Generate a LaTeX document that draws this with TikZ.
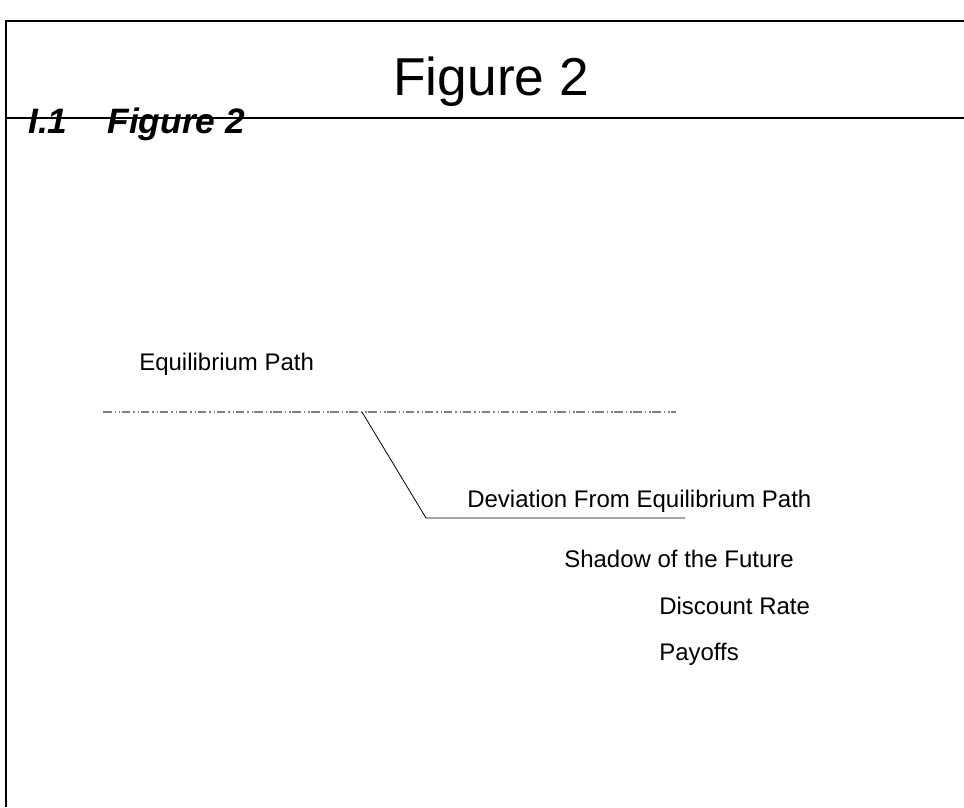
\documentclass[tikz,border=0pt]{standalone}
\usepackage{fontspec}
\setmainfont{Liberation Sans}
\usetikzlibrary{positioning}

\begin{document}
\begin{tikzpicture}[x=0.75pt, y=-0.75pt, every node/.style={inner sep=0pt, anchor=base west, font=\fontsize{18}{21}\selectfont}]
            \useasboundingbox (0,0) rectangle (964,807);

            % page frame and heading rule
            \draw [line width=1.5pt] (964,21) -- (6,21) -- (6,807);
            \draw [line width=1.2pt] (6,118) -- (964,118);

            \node (title) at (393,95) [font=\fontsize{40}{48}\selectfont] {Figure 2};
            \node (heading) at (28,133) [font=\fontsize{26.5}{30}\selectfont\bfseries\itshape] {I.1\hspace{30pt}Figure 2};

            \node (eq_label) at (139,370) {Equilibrium Path};
            \node (dev_label) at (467,507) {Deviation From Equilibrium Path};
            \node (shadow) at (564,567) {Shadow of the Future};
            \node (discount) at (659,614) {Discount Rate};
            \node (payoffs) at (659,660) {Payoffs};

            \coordinate (eq_a) at (103,412);
            \coordinate (eq_b) at (676,412);
            \coordinate (dev_a) at (362,412);
            \coordinate (dev_b) at (426,518);
            \coordinate (dev_c) at (685,518);

            \draw [gray, line width=0.9pt, dash pattern=on 6.4pt off 2.25pt on 1.1pt off 2.25pt on 1.1pt off 1.1pt] (eq_a) -- (eq_b);
            \draw [line width=0.6pt] (dev_a) -- (dev_b) -- (dev_c);
        \end{tikzpicture}
\end{document}
